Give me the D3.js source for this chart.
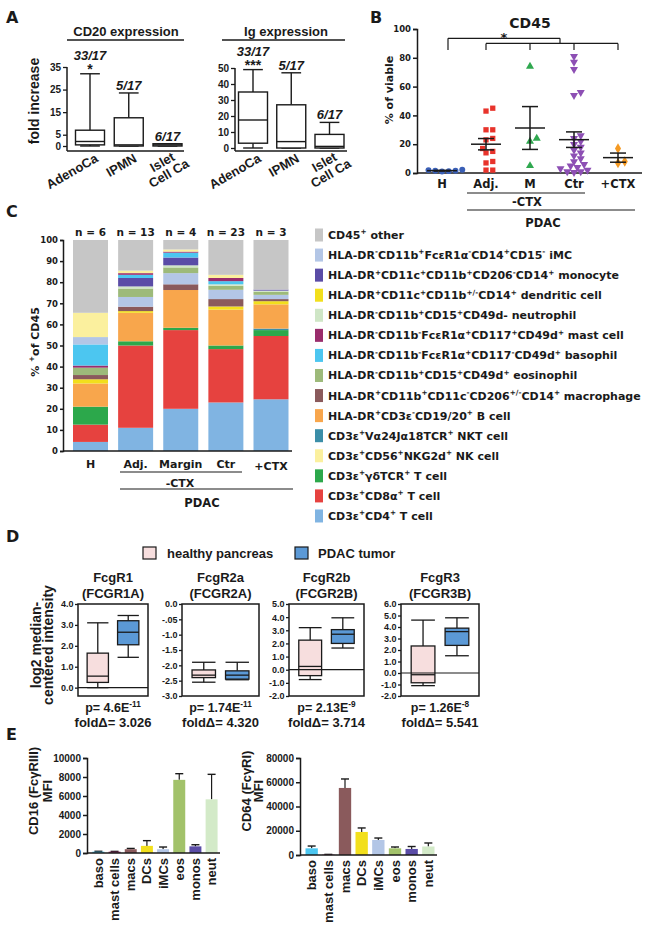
<!DOCTYPE html>
<html><head><meta charset="utf-8">
<script src="https://cdn.jsdelivr.net/npm/d3@7"></script>
<style>
body{margin:0;background:#fff}
svg{display:block;background:#fff}
text{font-weight:bold;fill:#1a1a1a}
</style>
</head><body>
<svg id="c" width="654" height="931"></svg>
<script>
// ===================== DATA =====================
// Panel A
const aCats = ["AdenoCa", "IPMN", "Islet\nCell Ca"];
const cd20Ticks = [0, 5, 15, 25, 35];
const cd20Box = [[0, 0.5, 2, 7, 32], [0, 0, 0.5, 12.5, 23.5], [0, 0, 0.5, 1, 1]]; // lo,q1,med,q3,hi
const cd20Ratio = ["33/17", "5/17", "6/17"];
const cd20Sig = ["*", "", ""];
const igTicks = [0, 10, 20, 30, 40, 50];
const igBox = [[0, 3, 17.5, 35, 49], [0, 0, 4, 27, 47], [0, 0, 1, 8.5, 16]];
const igRatio = ["33/17", "5/17", "6/17"];
const igSig = ["***", "", ""];

// Panel B
const bCats = ["H", "Adj.", "M", "Ctr", "+CTX"];
const bTicks = [0, 20, 40, 60, 80, 100];
const cd45H = [1.0, 1.6, 2.3, 1.3, 2.0, 1.5];
const cd45Adj = [45, 43, 30, 30, 24, 23, 17, 15, 14, 8, 7, 2, 2];
const cd45M = [74, 24, 22, 5];
const cd45Ctr = [81, 77, 72, 56, 54, 26, 24, 22, 20, 18, 16, 14, 12, 10, 8, 6, 5, 4, 3, 2, 1, 1, 0.5];
const cd45CTX = [17, 8, 7];

// Panel C
const cCats = ["H", "Adj.", "Margin", "Ctr", "+CTX"];
const cN = ["n = 6", "n = 13", "n = 4", "n = 23", "n = 3"];
const cTicks = [0, 10, 20, 30, 40, 50, 60, 70, 80, 90, 100];
const cellKeys = ["other", "iMC", "mono", "DC", "neut", "mast", "baso", "eos", "mac", "B", "NKT", "NK", "gd", "CD8", "CD4"];
const cellLabels = [
  "CD45{+} other",
  "HLA-DR{-}CD11b{+}FcεR1α{-}CD14{+}CD15{-} iMC",
  "HLA-DR{+}CD11c{+}CD11b{+}CD206{-}CD14{+} monocyte",
  "HLA-DR{+}CD11c{+}CD11b{+/-}CD14{+} dendritic cell",
  "HLA-DR{-}CD11b{+}CD15{+}CD49d- neutrophil",
  "HLA-DR{-}CD11b{-}FcεR1α{+}CD117{+}CD49d{+} mast cell",
  "HLA-DR{-}CD11b{-}FcεR1α{+}CD117{-}CD49d{+} basophil",
  "HLA-DR{-}CD11b{+}CD15{+}CD49d{+} eosinophil",
  "HLA-DR{+}CD11b{+}CD11c{-}CD206{+/-}CD14{+} macrophage",
  "HLA-DR{+}CD3ε{-}CD19/20{+} B cell",
  "CD3ε{+}Vα24Jα18TCR{+} NKT cell",
  "CD3ε{+}CD56{+}NKG2d{+} NK cell",
  "CD3ε{+}γδTCR{+} T cell",
  "CD3ε{+}CD8α{+} T cell",
  "CD3ε{+}CD4{+} T cell"
];
// percent of CD45, per group [H, Adj., Margin, Ctr, +CTX]
const pctOther = [34.5, 14.5, 4.5, 16.5, 23.5];
const pctIMC   = [3.5, 4.6, 5.3, 4.4, 2.0];
const pctMono  = [0, 4.0, 3.7, 0, 0.5];
const pctDC    = [2.0, 0.8, 0, 1.5, 1.5];
const pctNeut  = [0, 1.0, 1.0, 0.7, 0.5];
const pctMast  = [1.0, 0.8, 0.5, 1.5, 0];
const pctBaso  = [10.0, 1.5, 2.3, 1.5, 0];
const pctEos   = [3.5, 4.0, 2.7, 1.9, 1.5];
const pctMac   = [2.0, 2.1, 2.7, 3.5, 1.0];
const pctB     = [11.0, 13.5, 17.9, 17.0, 11.5];
const pctNKT   = [0, 0, 0, 0, 0.7];
const pctNK    = [11.5, 1.2, 1.0, 1.5, 0];
const pctGD    = [8.5, 2.0, 1.1, 1.7, 2.8];
const pctCD8   = [8.2, 39.0, 37.3, 25.3, 30.0];
const pctCD4   = [4.3, 11.0, 20.0, 23.0, 24.5];
const stackOrderH = ["CD4", "CD8", "gd", "NKT", "B", "DC", "mac", "eos", "mast", "baso", "iMC", "NK", "neut", "mono", "other"];
const stackOrderPDAC = ["CD4", "CD8", "gd", "NKT", "B", "DC", "mac", "iMC", "eos", "neut", "mono", "baso", "mast", "NK", "other"];

// Panel D
const dGenes = ["FcgR1", "FcgR2a", "FcgR2b", "FcgR3"];
const dProbes = ["(FCGR1A)", "(FCGR2A)", "(FCGR2B)", "(FCGR3B)"];
const dDomains = [[-0.4, 4], [-3, 0], [-2, 5], [-2, 6]];
const dTicks = [[0, 1, 2, 3, 4], [0, -0.5, -1, -1.5, -2, -2.5, -3], [-2, -1, 0, 1, 2, 3, 4, 5], [-2, -1, 0, 1, 2, 3, 4, 5, 6]];
const dTickLabels = [
  ["0.0", "1.0", "2.0", "3.0", "4.0"],
  ["0.0", "-.05", "-1.0", "-1.5", "-2.0", "-2.5", "-3.0"],
  ["-2.0", "-1.0", "0.0", "1.0", "2.0", "3.0", "4.0", "5.0"],
  ["-2.0", "-1.0", "0.0", "1.0", "2.0", "3.0", "4.0", "5.0", "6.0"]
];
const dHealthy = [[0, 0.25, 0.55, 1.65, 3.1], [-2.55, -2.4, -2.32, -2.15, -1.9], [-0.75, -0.45, 0.25, 2.25, 3.2], [-1.1, -0.85, -0.15, 2.35, 4.6]];
const dTumor = [[1.45, 2.05, 2.65, 3.2, 3.45], [-2.47, -2.45, -2.32, -2.18, -1.9], [1.65, 2.0, 2.7, 3.05, 3.95], [1.5, 2.4, 3.6, 3.9, 4.8]];
const dZeroLine = [true, false, true, true];
const dP = ["4.6E{-11}", "1.74E{-11}", "2.13E{-9}", "1.26E{-8}"];
const dFold = ["3.026", "4.320", "3.714", "5.541"];
const dGroups = ["healthy pancreas", "PDAC tumor"];

// Panel E
const eCats = ["baso", "mast cells", "macs", "DCs", "iMCs", "eos", "monos", "neut"];
const e16Ticks = [0, 2000, 4000, 6000, 8000, 10000];
const e16Mean = [140, 140, 400, 750, 400, 7700, 700, 5650];
const e16Top = [180, 170, 480, 1300, 630, 8350, 870, 8280];
const e64Ticks = [0, 20000, 40000, 60000, 80000];
const e64Mean = [5500, 300, 55300, 19000, 12400, 5500, 5000, 7000];
const e64Top = [7400, 500, 62700, 22300, 14000, 6600, 7000, 9900];

// ===================== STYLE =====================
const SANS = '"Liberation Sans", Arial, sans-serif';
const WIDE = '"DejaVu Sans", Verdana, sans-serif';
const INK = "#1a1a1a";
const cellColor = {
  other: "#c6c6c6", iMC: "#b3c6e6", mono: "#5a4ca6", DC: "#f2df1c", neut: "#cfe6c6",
  mast: "#9a2d6c", baso: "#4cc6f0", eos: "#9dba7a", mac: "#8a5a5c", B: "#f8a64c",
  NKT: "#3b8ea8", NK: "#fbf09e", gd: "#2ca84b", CD8: "#e6423f", CD4: "#80b4e2"
};
const eColorKeys = ["baso", "mast", "mac", "DC", "iMC", "eos", "mono", "neut"];
const eColors = {baso: "#4cc6f0", mast: "#9a2d6c", mac: "#8a5a5c", DC: "#f2df1c", iMC: "#b3c6e6", eos: "#a2c26a", mono: "#5a4ca6", neut: "#d3eac8"};
const bColors = ["#3a5fb6", "#e8332b", "#2fa84f", "#8d4fb4", "#f59a23"];
const bSymbols = [d3.symbolCircle, d3.symbolSquare, d3.symbolTriangle, "down", d3.symbolDiamond];

const svg = d3.select("#c");

function rich(t, str, fs) {
  const parts = str.split(/(\{[^}]*\})/).filter(s => s.length);
  let up = false;
  parts.forEach(p => {
    if (p.startsWith("{")) {
      t.append("tspan").attr("font-size", fs * 0.66).attr("dy", up ? 0 : -fs * 0.42).text(p.slice(1, -1));
      up = true;
    } else {
      t.append("tspan").attr("font-size", fs).attr("dy", up ? fs * 0.42 : 0).text(p);
      up = false;
    }
  });
}
function styleAxis(g, fam, fs, sw) {
  g.attr("font-family", fam).attr("font-size", fs).attr("font-weight", "bold");
  g.selectAll("line,path").attr("stroke", INK).attr("stroke-width", sw || 1.3);
  g.selectAll("text").attr("fill", INK);
}
function line(g, x1, y1, x2, y2, sw) {
  g.append("line").attr("x1", x1).attr("y1", y1).attr("x2", x2).attr("y2", y2)
    .attr("stroke", INK).attr("stroke-width", sw || 1.3);
}
function txt(g, x, y, s, fam, fs, anchor) {
  return g.append("text").attr("x", x).attr("y", y).attr("font-family", fam)
    .attr("font-size", fs).attr("text-anchor", anchor || "middle").text(s);
}

// Panel letters
[["A", 6, 23], ["B", 370, 23], ["C", 6, 217], ["D", 6, 542], ["E", 6, 740]].forEach(([l, x, y]) =>
  txt(svg, x, y, l, WIDE, 16, "start"));

// ===================== PANEL A =====================
function panelA(cfg) {
  const g = svg.append("g");
  const y = d3.scaleLinear().domain([0, d3.max(cfg.ticks)]).range([cfg.y0, cfg.yTop]);
  const x = d3.scalePoint().domain(aCats).range(cfg.xr);
  const bw = 29;
  txt(g, cfg.titleX, 36, cfg.title, SANS, 13);
  line(g, cfg.ulX[0], 40, cfg.ulX[1], 40, 1.3);
  const ax = g.append("g").attr("transform", `translate(${cfg.axX},0)`)
    .call(d3.axisLeft(y).tickValues(cfg.ticks).tickSize(4).tickPadding(2));
  ax.select(".domain").remove();
  styleAxis(ax, SANS, 10);
  line(g, cfg.axX, y(d3.max(cfg.ticks)), cfg.axX, cfg.baseY, 1.5);
  line(g, cfg.axX, cfg.baseY, cfg.axEnd, cfg.baseY, 1.5);
  cfg.data.forEach((d, i) => {
    const cx = x(aCats[i]);
    const [lo, q1, md, q3, hi] = d;
    const cw = bw * 0.68;
    line(g, cx, y(hi), cx, y(q3), 1.4);
    line(g, cx, y(lo), cx, y(q1), 1.4);
    line(g, cx - cw / 2, y(hi), cx + cw / 2, y(hi), 1.4);
    line(g, cx - cw / 2, y(lo), cx + cw / 2, y(lo), 1.4);
    g.append("rect").attr("x", cx - bw / 2).attr("y", y(q3)).attr("width", bw)
      .attr("height", Math.max(y(q1) - y(q3), 0.5)).attr("fill", "#fff").attr("stroke", INK).attr("stroke-width", 1.4);
    line(g, cx - bw / 2, y(md), cx + bw / 2, y(md), 1.4);
    const tSig = cfg.sig[i];
    if (tSig) {
      txt(g, cx, y(hi) + 0.5, tSig, SANS, 14);
      txt(g, cx, y(hi) - 14, cfg.ratio[i], SANS, 13).attr("font-style", "italic");
    } else {
      txt(g, cx, y(hi) - 3, cfg.ratio[i], SANS, 13).attr("font-style", "italic");
    }
    const lines = aCats[i].split("\n");
    if (lines.length === 1) {
      txt(g, 0, 0, lines[0], SANS, 13, "end").attr("transform", `translate(${cx + 9},161) rotate(-30)`);
    } else {
      const t = g.append("text").attr("font-family", SANS).attr("font-size", 13).attr("text-anchor", "middle")
        .attr("transform", `translate(${cx - 3},166) rotate(-30)`);
      lines.forEach((l, k) => t.append("tspan").attr("x", 0).attr("y", k * 13).text(l));
    }
  });
}
panelA({title: "CD20 expression", titleX: 126, ulX: [67, 184], ticks: cd20Ticks, data: cd20Box,
  ratio: cd20Ratio, sig: cd20Sig, y0: 146, yTop: 67, xr: [90, 167.5], axX: 67, axEnd: 184, baseY: 151});
panelA({title: "Ig expression", titleX: 286, ulX: [222, 345], ticks: igTicks, data: igBox,
  ratio: igRatio, sig: igSig, y0: 148, yTop: 68, xr: [253, 329.5], axX: 235, axEnd: 347, baseY: 151});
txt(svg, 0, 0, "fold increase", SANS, 14).attr("transform", "translate(39,101) rotate(-90)");

// ===================== PANEL B =====================
(function () {
  const g = svg.append("g");
  const y = d3.scaleLinear().domain([0, 100]).range([173, 29]);
  const x = d3.scalePoint().domain(bCats).range([442, 618]);
  const ax = g.append("g").attr("transform", "translate(417,0)")
    .call(d3.axisLeft(y).tickValues(bTicks).tickSize(4).tickPadding(2));
  styleAxis(ax, WIDE, 8.5, 1.5);
  line(g, 417, 173, 642, 173, 1.5);
  txt(g, 530, 28, "CD45", WIDE, 14);
  txt(g, 0, 0, "% of viable", WIDE, 11).attr("transform", "translate(393,90) rotate(-90)");
  bCats.forEach(c => txt(g, x(c), 188, c, WIDE, 11.5));
  line(g, 467, 193, 585, 193, 1.2);
  txt(g, 527, 206, "-CTX", WIDE, 11.5);
  line(g, 467, 210, 635, 210, 1.2);
  txt(g, 543, 227, "PDAC", WIDE, 11.5);
  const yT = y(93.5), yM = y(90), yD = y(85.5);
  const bx0 = x("H") + 6, bxR = x("Adj."), bxE = x("+CTX"), bxMid = (x("M") + x("Ctr")) / 2 + 8;
  line(g, bx0, yD, bx0, yT, 1.2);
  line(g, bx0, yT, bxMid, yT, 1.2);
  line(g, bxMid, yT, bxMid, yM, 1.2);
  line(g, bxR, yM, bxE, yM, 1.2);
  [x("Adj."), x("M"), x("Ctr"), x("+CTX")].forEach(xx => line(g, xx, yM, xx, yD, 1.2));
  txt(g, (bx0 + bxMid) / 2, yT + 3.5, "*", WIDE, 13);
  const sets = [cd45H, cd45Adj, cd45M, cd45Ctr, cd45CTX];
  const r = 2.7;
  sets.forEach((vals, i) => {
    const cx = x(bCats[i]);
    const placed = [];
    vals.map(v => v).sort((a, b) => a - b).forEach(v => {
      const py = y(v);
      let k = 0, px;
      while (true) {
        const off = k === 0 ? 0 : Math.ceil(k / 2) * r * 1.25 * (k % 2 ? 1 : -1);
        px = cx + off;
        if (placed.every(p => (p.x - px) ** 2 + (p.y - py) ** 2 >= (2 * r) ** 2)) break;
        k++;
      }
      placed.push({x: px, y: py});
    });
    const symType = bSymbols[i] === "down" ? d3.symbolTriangle : bSymbols[i];
    const rot = bSymbols[i] === "down" ? " rotate(180)" : "";
    placed.forEach(p => {
      g.append("path").attr("d", d3.symbol().type(symType).size(i === 4 ? 32 : 28)())
        .attr("transform", `translate(${p.x},${p.y})${rot}`).attr("fill", bColors[i]);
    });
    const m = d3.mean(vals);
    const sem = d3.deviation(vals) / Math.sqrt(vals.length);
    line(g, cx - 15, y(m), cx + 15, y(m), 1.5);
    line(g, cx, y(m - sem), cx, y(m + sem), 1.5);
    line(g, cx - 8, y(m - sem), cx + 8, y(m - sem), 1.5);
    line(g, cx - 8, y(m + sem), cx + 8, y(m + sem), 1.5);
  });
})();

// ===================== PANEL C =====================
(function () {
  const g = svg.append("g");
  const vals = {other: pctOther, iMC: pctIMC, mono: pctMono, DC: pctDC, neut: pctNeut, mast: pctMast,
    baso: pctBaso, eos: pctEos, mac: pctMac, B: pctB, NKT: pctNKT, NK: pctNK, gd: pctGD, CD8: pctCD8, CD4: pctCD4};
  const y = d3.scaleLinear().domain([0, 100]).range([451, 240]);
  const x = d3.scalePoint().domain(cCats).range([90.5, 271]);
  const bw = 35;
  cCats.forEach((c, i) => {
    const order = i === 0 ? stackOrderH : stackOrderPDAC;
    let acc = 0;
    order.forEach(k => {
      const v = vals[k][i];
      if (v > 0) {
        g.append("rect").attr("x", x(c) - bw / 2).attr("width", bw)
          .attr("y", y(acc + v)).attr("height", y(acc) - y(acc + v)).attr("fill", cellColor[k]);
      }
      acc += v;
    });
    txt(g, x(c), 236, cN[i], WIDE, 10.5);
    txt(g, x(c), i === 4 ? 470 : 468, c, WIDE, 11);
  });
  const ax = g.append("g").attr("transform", "translate(63,0)")
    .call(d3.axisLeft(y).tickValues(cTicks).tickSize(3).tickPadding(2));
  styleAxis(ax, WIDE, 8.5, 1.5);
  line(g, 63, 451, 292, 451, 1.5);
  line(g, 120, 472, 242, 472, 1.2);
  txt(g, 180, 487, "-CTX", WIDE, 11);
  line(g, 120, 489, 293, 489, 1.2);
  txt(g, 202, 507, "PDAC", WIDE, 11.5);
  const yl = g.append("text").attr("font-family", WIDE).attr("text-anchor", "middle")
    .attr("transform", "translate(39,342) rotate(-90)");
  rich(yl, "% {+}of CD45", 11);
  cellKeys.forEach((k, i) => {
    const cy = 235 + i * 20.07;
    g.append("rect").attr("x", 315).attr("y", cy - 6.5).attr("width", 8).attr("height", 13).attr("fill", cellColor[k]);
    const t = g.append("text").attr("x", 328).attr("y", cy + 4).attr("font-family", WIDE).attr("text-anchor", "start");
    rich(t, cellLabels[i], 11);
  });
})();

// ===================== PANEL D =====================
(function () {
  const g = svg.append("g");
  const lefts = [78, 182, 289, 401], widths = [70, 77, 75, 78];
  const top = 604, bot = 696;
  const fills = ["#f7dede", "#5b99d6"];
  [[143, 167], [295, 318]].forEach(([bx, tx], i) => {
    g.append("rect").attr("x", bx).attr("y", 547).attr("width", 13).attr("height", 12)
      .attr("fill", fills[i]).attr("stroke", INK).attr("stroke-width", 1.2);
    txt(g, tx, 558, dGroups[i], SANS, 13, "start");
  });
  dGenes.forEach((gene, i) => {
    const L = lefts[i], W = widths[i], cx = L + W / 2;
    const y = d3.scaleLinear().domain(dDomains[i]).range([bot, top]);
    const xb = d3.scaleBand().domain(dGroups).range([L, L + W]).paddingInner(0.3).paddingOuter(0.3);
    const ax = g.append("g").attr("transform", `translate(${L},0)`)
      .call(d3.axisLeft(y).tickValues(dTicks[i]).tickFormat((d, k) => dTickLabels[i][k]).tickSize(3).tickPadding(1.5));
    ax.select(".domain").remove();
    styleAxis(ax, SANS, 9, 1.3);
    [dHealthy[i], dTumor[i]].forEach((d, j) => {
      const bx = xb(dGroups[j]), bw = xb.bandwidth(), mx = bx + bw / 2;
      const [lo, q1, md, q3, hi] = d;
      line(g, mx, y(hi), mx, y(q3), 1.3);
      line(g, mx, y(lo), mx, y(q1), 1.3);
      line(g, bx, y(hi), bx + bw, y(hi), 1.3);
      line(g, bx, y(lo), bx + bw, y(lo), 1.3);
      g.append("rect").attr("x", bx).attr("y", y(q3)).attr("width", bw).attr("height", y(q1) - y(q3))
        .attr("fill", fills[j]).attr("stroke", INK).attr("stroke-width", 1.3);
      line(g, bx, y(md), bx + bw, y(md), 1.3);
    });
    if (dZeroLine[i]) line(g, L, y(0), L + W, y(0), 1.2);
    g.append("rect").attr("x", L).attr("y", top).attr("width", W).attr("height", bot - top)
      .attr("fill", "none").attr("stroke", INK).attr("stroke-width", 1.5);
    txt(g, cx, 582, gene, SANS, 13);
    txt(g, cx, 598, dProbes[i], SANS, 13);
    const pt = g.append("text").attr("x", cx).attr("y", 712).attr("font-family", SANS).attr("text-anchor", "middle");
    rich(pt, "p= " + dP[i], 12.5);
    txt(g, cx, 727, "foldΔ= " + dFold[i], SANS, 13);
  });
  const yl = g.append("text").attr("font-family", SANS).attr("font-size", 14).attr("text-anchor", "middle")
    .attr("transform", "translate(0,645) rotate(-90)");
  yl.append("tspan").attr("x", 0).attr("y", 41).text("log2 median-");
  yl.append("tspan").attr("x", 0).attr("y", 53).text("centered intensity");
})();

// ===================== PANEL E =====================
function panelE(cfg) {
  const g = svg.append("g");
  const y = d3.scaleLinear().domain([0, d3.max(cfg.ticks)]).range([cfg.y0, 758]);
  const x = d3.scaleBand().domain(eCats).range(cfg.xr).paddingInner(0.26).paddingOuter(0.15);
  eCats.forEach((c, i) => {
    const bx = x(c), bw = x.bandwidth(), mx = bx + bw / 2;
    line(g, mx, y(cfg.mean[i]), mx, y(cfg.top[i]), 1.2);
    line(g, mx - 4, y(cfg.top[i]), mx + 4, y(cfg.top[i]), 1.4);
    g.append("rect").attr("x", bx).attr("width", bw).attr("y", y(cfg.mean[i]))
      .attr("height", cfg.y0 - y(cfg.mean[i])).attr("fill", eColors[eColorKeys[i]]);
    txt(g, 0, 0, c, SANS, 13, "end").attr("transform", `translate(${mx + 4.5},${cfg.y0 + 5}) rotate(-90)`);
  });
  const ax = g.append("g").attr("transform", `translate(${cfg.axX},0)`)
    .call(d3.axisLeft(y).tickValues(cfg.ticks).tickFormat(d3.format("d")).tickSize(4).tickPadding(2));
  styleAxis(ax, SANS, 10, 1.5);
  line(g, cfg.axX, cfg.y0, cfg.xr[1], cfg.y0, 1.5);
  const yl = g.append("text").attr("font-family", SANS).attr("font-size", 13).attr("text-anchor", "middle")
    .attr("transform", `translate(0,791) rotate(-90)`);
  yl.append("tspan").attr("x", 0).attr("y", cfg.lblX[0]).text(cfg.label);
  yl.append("tspan").attr("x", 0).attr("y", cfg.lblX[1]).text("MFI");
}
panelE({ticks: e16Ticks, mean: e16Mean, top: e16Top, y0: 853, xr: [90, 220], axX: 87,
  label: "CD16 (FcγRIII)", lblX: [38, 52]});
panelE({ticks: e64Ticks, mean: e64Mean, top: e64Top, y0: 855, xr: [303, 437], axX: 300,
  label: "CD64 (FcγRI)", lblX: [251, 263]});
</script>
</body></html>
